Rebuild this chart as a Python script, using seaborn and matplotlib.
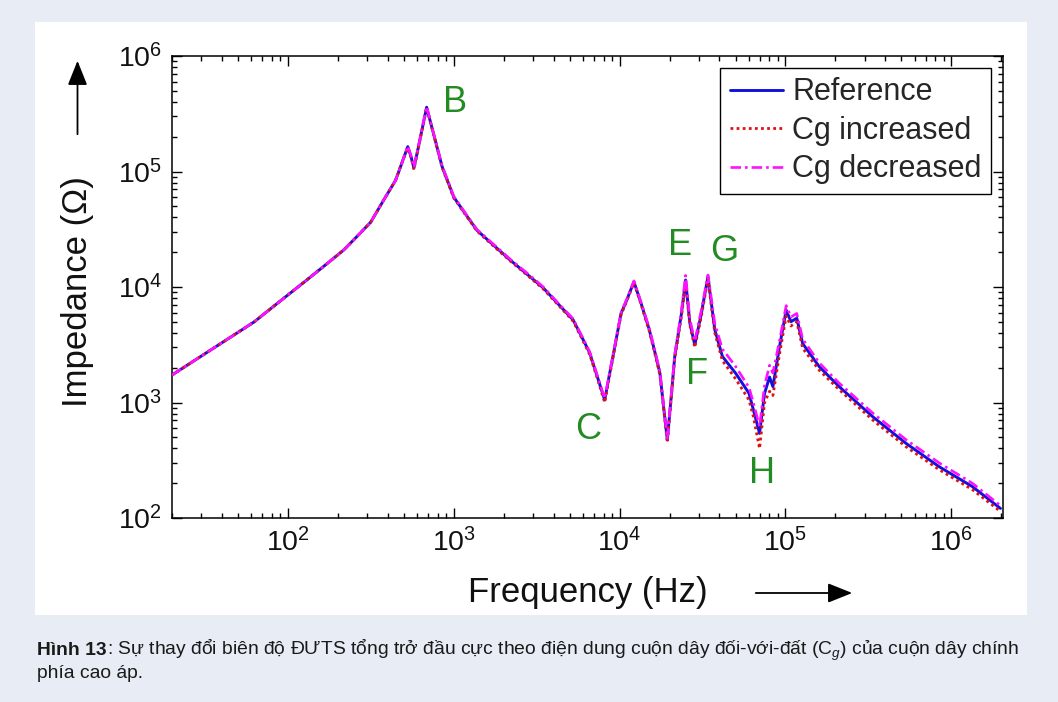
import matplotlib
matplotlib.use("Agg")
import matplotlib.pyplot as plt
import seaborn as sns
import pandas as pd
from matplotlib.patches import Rectangle, FancyArrowPatch
from matplotlib.ticker import LogLocator, NullFormatter, LogFormatterSciNotation

# ---- data -----------------------------------------------------------------
freq_hz = [20, 40, 62.5, 90, 125, 170, 217, 270, 316, 380,
           446, 490, 528, 552, 575, 620, 686, 740, 851, 1000,
           1180, 1380, 1750, 2190, 2750, 3470, 4300, 5250, 6000, 6600,
           7400, 8130, 8700, 9120, 10200, 11000, 12200, 13500, 15100, 16500,
           17500, 18500, 19400, 20300, 21500, 23600, 25000, 26500, 28400, 31100,
           34100, 35900, 37500, 41700, 50100, 60300, 64000, 69800, 74800, 80200,
           84000, 92000, 101000, 108000, 117000, 127000, 160000, 211000, 336000, 532000,
           845000, 1340000, 1980000]

z_reference = [1730, 3290, 4980, 7570, 11000, 15700, 20900, 28800, 36500, 57300,
               84000, 122000, 164000, 135000, 107000, 178000, 360000, 237000, 110000, 60000,
               42600, 31000, 22800, 17100, 13000, 9800, 7030, 5180, 3540, 2690,
               1610, 1050, 1770, 2510, 5890, 7600, 11100, 7150, 4270, 2560,
               1790, 867, 473, 980, 2510, 5890, 11500, 4900, 3150, 5890,
               12300, 6900, 4270, 2500, 1790, 1200, 870, 540, 1200, 1660,
               1370, 3020, 6300, 5010, 5370, 3240, 2040, 1370, 753, 444,
               278, 187, 121]

z_cg_increased = [1730, 3290, 4980, 7570, 11000, 15700, 20900, 28800, 36500, 57300,
                  84000, 122000, 160000, 133000, 104000, 176000, 355000, 235000, 108000, 59000,
                  42000, 30500, 22400, 16800, 12800, 9600, 6900, 5050, 3450, 2600,
                  1560, 1000, 1700, 2450, 5750, 7450, 10900, 7000, 4150, 2480,
                  1730, 840, 450, 950, 2400, 5600, 10800, 4700, 3000, 5600,
                  11800, 6500, 4000, 2300, 1600, 1050, 760, 400, 1000, 1250,
                  1150, 2600, 5600, 4600, 5000, 2950, 1900, 1290, 705, 415,
                  262, 176, 114]

z_cg_decreased = [1730, 3290, 4980, 7570, 11000, 15700, 20900, 28800, 36500, 57300,
                  84000, 122000, 166000, 137000, 109000, 180000, 365000, 240000, 112000, 61000,
                  43200, 31500, 23200, 17400, 13300, 10000, 7150, 5300, 3620, 2750,
                  1650, 1080, 1820, 2580, 6000, 7750, 11300, 7300, 4400, 2640,
                  1850, 900, 490, 1010, 2600, 6200, 12600, 5300, 3400, 6300,
                  12700, 7600, 4800, 2900, 2050, 1350, 1000, 620, 1400, 2100,
                  1800, 3400, 6900, 5500, 5900, 3550, 2200, 1470, 810, 478,
                  300, 200, 128]

series_names = ["Reference", "Cg increased", "Cg decreased"]

point_labels = ["B", "C", "E", "F", "G", "H"]
label_freq = [1020, 6450, 23100, 29200, 43000, 71800]
label_z = [392000, 578, 23100, 1740, 20100, 245]

caption_bold = "Hình 13"
caption_rest = (": Sự thay đổi biên độ ĐƯTS tổng trở đầu cực theo điện dung "
                "cuộn dây đối-với-đất (C$_g$) của cuộn dây chính")
caption_line2 = "phía cao áp."

# ---- style ----------------------------------------------------------------
sns.set_theme(style="ticks")
plt.rcParams["font.family"] = ["Liberation Sans", "DejaVu Sans"]
plt.rcParams["mathtext.fontset"] = "custom"
plt.rcParams["mathtext.rm"] = "Liberation Sans"
plt.rcParams["mathtext.it"] = "Liberation Sans:italic"
plt.rcParams["mathtext.bf"] = "Liberation Sans:bold"

W, H = 1058, 702
fig = plt.figure(figsize=(W / 100, H / 100), dpi=100)
fig.patch.set_facecolor("#e8ecf5")

# white panel behind the chart
fig.add_artist(Rectangle((35 / W, 1 - 615 / H), (1027 - 35) / W, (615 - 22) / H,
                         transform=fig.transFigure, facecolor="white",
                         edgecolor="none", zorder=0))

ax = fig.add_axes([172 / W, 1 - 518 / H, (1003 - 172) / W, (518 - 56) / H])
ax.set_facecolor("white")

frames = []
for name, z in zip(series_names, [z_reference, z_cg_increased, z_cg_decreased]):
    frames.append(pd.DataFrame({"freq": freq_hz, "z": z, "series": name}))
df = pd.concat(frames, ignore_index=True)

styles = {
    "Reference": dict(color="#1010e0", linestyle="-", linewidth=2.1),
    "Cg increased": dict(color="#e01010", linestyle=(0, (1, 1.2)), linewidth=2.0),
    "Cg decreased": dict(color="#ff10ff", linestyle=(0, (4, 1.5, 1, 1.5)), linewidth=1.9),
}
for i, name in enumerate(series_names):
    sub = df[df["series"] == name]
    sns.lineplot(data=sub, x="freq", y="z", ax=ax, estimator=None, sort=False,
                 label=name, zorder=3 + i, **styles[name])

ax.set_xscale("log")
ax.set_yscale("log")
ax.set_xlim(20, 2.05e6)
ax.set_ylim(1e2, 1e6)

ax.xaxis.set_major_locator(LogLocator(base=10, numticks=12))
ax.xaxis.set_minor_locator(LogLocator(base=10, subs=range(2, 10), numticks=12))
ax.yaxis.set_major_locator(LogLocator(base=10, numticks=12))
ax.yaxis.set_minor_locator(LogLocator(base=10, subs=range(2, 10), numticks=12))
ax.xaxis.set_major_formatter(LogFormatterSciNotation())
ax.yaxis.set_major_formatter(LogFormatterSciNotation())
ax.xaxis.set_minor_formatter(NullFormatter())
ax.yaxis.set_minor_formatter(NullFormatter())

ax.tick_params(which="both", direction="in", top=True, right=True,
               color="black", width=1.0)
ax.tick_params(which="major", length=7, labelsize=20.5, pad=7, labelcolor="#111111")
ax.tick_params(which="minor", length=3.5)
for s in ax.spines.values():
    s.set_color("black")
    s.set_linewidth(1.1)
ax.grid(False)

ax.set_xlabel("Frequency (Hz)", fontsize=25, color="#111111")
ax.set_ylabel("Impedance (Ω)", fontsize=25, color="#111111")
ax.xaxis.set_label_coords(0.5, -0.125)
ax.yaxis.set_label_coords(-0.094, 0.49)

for lab, fx, zy in zip(point_labels, label_freq, label_z):
    ax.text(fx, zy, lab, fontsize=26, color="#228b22", ha="center", va="center")

leg = ax.legend(loc="upper right", fontsize=22, frameon=True, fancybox=False,
                edgecolor="black", framealpha=1, handlelength=1.75,
                handletextpad=0.3, labelspacing=0.28, borderpad=0.3,
                borderaxespad=0.4)
leg.get_frame().set_linewidth(1.0)

# direction arrows beside the axis labels
fig.add_artist(FancyArrowPatch((77.5 / W, 1 - 137 / H), (77.5 / W, 1 - 58 / H),
                               transform=fig.transFigure,
                               arrowstyle="-|>,head_length=0.75,head_width=0.3",
                               mutation_scale=20, color="black", linewidth=1.3))
fig.add_artist(FancyArrowPatch((753 / W, 1 - 593 / H), (855 / W, 1 - 593 / H),
                               transform=fig.transFigure,
                               arrowstyle="-|>,head_length=0.75,head_width=0.3",
                               mutation_scale=20, color="black", linewidth=1.3))

# caption: bold figure number followed by regular text, sized to the panel width
cap_family = ["Liberation Sans", "DejaVu Sans"]
x0, x_end = 37, 1022
y1 = 1 - 655 / H
y2 = 1 - 678 / H
size = 14.0
t1 = fig.text(x0 / W, y1, caption_bold, family=cap_family, fontsize=size,
              weight="bold", color="#1a1a1a", va="baseline")
t2 = fig.text(0, y1, caption_rest, family=cap_family, fontsize=size,
              color="#1a1a1a", va="baseline")
t3 = fig.text(x0 / W, y2, caption_line2, family=cap_family, fontsize=size,
              color="#1a1a1a", va="baseline")
renderer = fig.canvas.get_renderer()
w_total = t1.get_window_extent(renderer).width + t2.get_window_extent(renderer).width
size = size * (x_end - x0) / w_total
for t in (t1, t2, t3):
    t.set_fontsize(size)
bb = t1.get_window_extent(renderer)
t2.set_x(bb.x1 / W)

fig.savefig("out.png", dpi=100, facecolor=fig.get_facecolor())
